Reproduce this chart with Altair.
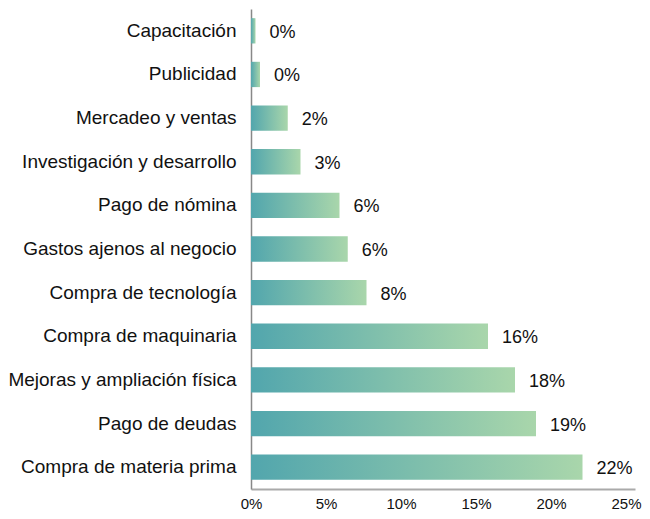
import altair as alt
import pandas as pd

categories = [
    "Capacitación",
    "Publicidad",
    "Mercadeo y ventas",
    "Investigación y desarrollo",
    "Pago de nómina",
    "Gastos ajenos al negocio",
    "Compra de tecnología",
    "Compra de maquinaria",
    "Mejoras y ampliación física",
    "Pago de deudas",
    "Compra de materia prima",
]
values = [0.3, 0.6, 2.45, 3.3, 5.9, 6.45, 7.7, 15.8, 17.6, 19.0, 22.1]
labels = ["0%", "0%", "2%", "3%", "6%", "6%", "8%", "16%", "18%", "19%", "22%"]
x_ticks = [0, 5, 10, 15, 20, 25]

df = pd.DataFrame({"cat": categories, "val": values, "label": labels})

FONT = "Liberation Sans"

gradient = alt.LinearGradient(
    gradient="linear",
    stops=[
        alt.GradientStop(color="#52a6ad", offset=0),
        alt.GradientStop(color="#a9d6ab", offset=1),
    ],
    x1=0, x2=1, y1=0, y2=0,
)

y_enc = alt.Y(
    "cat:N",
    sort=categories,
    title=None,
    scale=alt.Scale(paddingInner=0.42, paddingOuter=0.21),
    axis=alt.Axis(
        ticks=False,
        labelFont=FONT,
        labelFontSize=19,
        labelColor="#111111",
        labelPadding=15,
        domainColor="#888888",
        domainWidth=1.5,
        labelLimit=400,
    ),
)

bars = alt.Chart(df).mark_bar(color=gradient).encode(
    x=alt.X(
        "val:Q",
        title=None,
        scale=alt.Scale(domain=[0, 25.6], nice=False),
        axis=alt.Axis(
            values=x_ticks,
            labelExpr="datum.value + '%'",
            labelFlush=False,
            ticks=False,
            grid=False,
            labelFont=FONT,
            labelFontSize=15,
            labelColor="#111111",
            labelPadding=7,
            domainColor="#aaaaaa",
            domainWidth=2,
        ),
    ),
    y=y_enc,
)

text = alt.Chart(df).mark_text(
    align="left", baseline="middle", dx=14, dy=2,
    font=FONT, fontSize=18, color="#111111",
).encode(
    x="val:Q",
    y=alt.Y("cat:N", sort=categories),
    text="label:N",
)

chart = (bars + text).properties(
    width=384, height=480,
    autosize=alt.AutoSizeParams(type="none"),
    padding={"left": 243, "top": 1, "right": 7, "bottom": 22},
    background="white",
).configure_view(strokeWidth=0)

chart.save("out.html", embed_options={"renderer": "svg", "actions": False})
